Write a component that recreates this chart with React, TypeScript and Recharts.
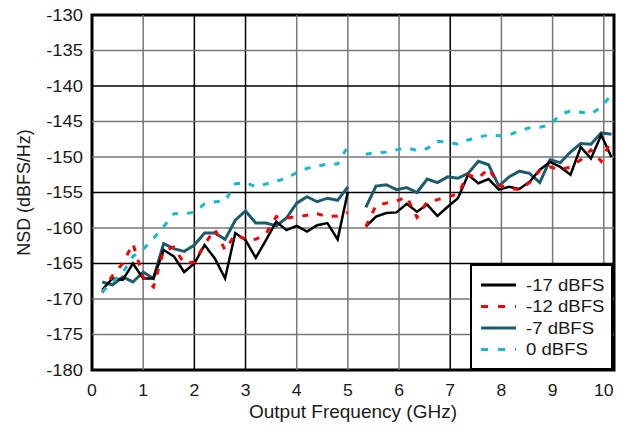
import React from 'react';
import { LineChart, Line, XAxis, YAxis, ReferenceLine, ReferenceArea, Legend, Label } from 'recharts';

const FONT = 'Arial, "Liberation Sans", sans-serif';
const TEXT = '#1a1a1a';

const FREQ_LOW = [0.2, 0.4, 0.6, 0.8, 1.0, 1.2, 1.4, 1.6, 1.8, 2.0, 2.2, 2.4, 2.6, 2.8, 3.0, 3.2, 3.4, 3.6, 3.8, 4.0, 4.2, 4.4, 4.6, 4.8, 5.0];
const FREQ_HIGH = [5.35, 5.55, 5.75, 5.95, 6.15, 6.35, 6.55, 6.75, 6.95, 7.15, 7.35, 7.55, 7.75, 7.95, 8.15, 8.35, 8.55, 8.75, 8.95, 9.15, 9.35, 9.55, 9.75, 9.95, 10.15];

const M17_LOW = [-168.7, -167.1, -167.3, -165.0, -167.1, -167.1, -163.1, -164.0, -166.2, -165.0, -162.4, -164.3, -167.1, -160.7, -161.7, -164.2, -161.7, -159.1, -160.3, -159.7, -160.5, -159.6, -159.3, -161.6, -154.9];
const M17_HIGH = [-159.8, -158.4, -157.9, -157.8, -156.6, -157.7, -156.7, -158.3, -157.0, -155.8, -152.5, -153.7, -153.1, -154.6, -154.2, -154.5, -153.5, -151.8, -150.7, -151.4, -152.5, -148.6, -150.2, -146.9, -150.0];

const M12_LOW = [-169.1, -166.7, -165.0, -162.2, -166.9, -168.3, -163.2, -162.7, -165.0, -164.8, -162.3, -160.2, -163.1, -160.9, -161.6, -161.6, -160.8, -158.4, -158.6, -158.4, -158.2, -158.0, -158.4, -158.3, -157.8];
const M12_HIGH = [-159.8, -156.8, -156.5, -156.2, -155.6, -158.5, -156.3, -156.0, -155.6, -155.2, -152.5, -153.0, -151.6, -154.0, -154.4, -154.6, -153.6, -151.9, -151.4, -151.8, -151.4, -150.4, -149.0, -150.6, -147.6];

const M7_LOW = [-167.6, -168.0, -166.9, -167.6, -166.2, -167.1, -162.2, -162.9, -163.3, -162.4, -160.7, -160.7, -161.6, -158.9, -157.6, -159.3, -159.3, -159.7, -158.6, -156.5, -155.6, -156.3, -155.8, -156.1, -154.2];
const M7_HIGH = [-157.1, -154.1, -153.9, -154.6, -154.3, -155.0, -153.1, -153.6, -152.8, -153.0, -152.3, -150.6, -151.1, -154.1, -152.8, -152.0, -152.3, -153.6, -150.4, -150.8, -149.3, -148.1, -148.2, -146.6, -146.8];

const Z0_LOW = [-169.0, -167.6, -166.3, -164.0, -163.0, -161.5, -159.8, -158.0, -158.0, -157.8, -156.6, -156.3, -156.2, -153.8, -153.6, -154.2, -153.8, -153.4, -153.0, -152.2, -151.6, -151.3, -151.0, -151.0, -148.5];
const Z0_HIGH = [-149.6, -149.4, -149.3, -149.0, -148.7, -149.1, -148.8, -147.8, -147.9, -148.2, -147.6, -147.2, -146.9, -147.0, -146.9, -146.3, -145.9, -145.8, -145.5, -144.0, -143.5, -143.7, -143.9, -143.0, -141.2];

const X_TICKS = [0, 1, 2, 3, 4, 5, 6, 7, 8, 9, 10];
const Y_TICKS = [-180, -175, -170, -165, -160, -155, -150, -145, -140, -135, -130];
const X_GRID_DARK = [2, 3, 7];
const Y_GRID_DARK = [-140, -155, -165];

const SERIES = [
  { key: 'm17', name: '-17 dBFS', color: '#000000', dash: undefined as string | undefined, width: 2.5 },
  { key: 'm12', name: '-12 dBFS', color: '#ff0000', dash: '6 9', width: 3 },
  { key: 'm7', name: '-7 dBFS', color: '#1b5d6d', dash: undefined as string | undefined, width: 3 },
  { key: 'z0', name: '0 dBFS', color: '#13bccc', dash: '6 9', width: 3 },
];
const DRAW_ORDER = ['m7', 'm17', 'm12', 'z0'];

type Row = { f: number; m17: number | null; m12: number | null; m7: number | null; z0: number | null };
const data: Row[] = [
  ...FREQ_LOW.map((f, i) => ({ f, m17: M17_LOW[i], m12: M12_LOW[i], m7: M7_LOW[i], z0: Z0_LOW[i] })),
  { f: (FREQ_LOW[FREQ_LOW.length - 1] + FREQ_HIGH[0]) / 2, m17: null, m12: null, m7: null, z0: null },
  ...FREQ_HIGH.map((f, i) => ({ f, m17: M17_HIGH[i], m12: M12_HIGH[i], m7: M7_HIGH[i], z0: Z0_HIGH[i] })),
];

const YTick = (props: any) => {
  const { x, y, payload } = props;
  return (
    <text transform={`translate(${x},${y}) scale(1.15,1)`} textAnchor="end" dominantBaseline="central"
      fontSize={16} fontFamily={FONT} fill={TEXT}>{payload.value}</text>
  );
};

const XTick = (props: any) => {
  const { x, y, payload } = props;
  return (
    <text transform={`translate(${x},${y}) scale(1.1,1)`} textAnchor="middle" dominantBaseline="central"
      fontSize={16} fontFamily={FONT} fill={TEXT}>{payload.value}</text>
  );
};

const LegendBox = () => {
  const rows = [21, 42.5, 64, 85.5];
  return (
    <svg width={143} height={106} style={{ display: 'block' }}>
      <rect x={1} y={1} width={141} height={104} fill="#ffffff" stroke="#000" strokeWidth={2} />
      {SERIES.map((s, i) => (
        <g key={s.key}>
          <line x1={11} x2={46} y1={rows[i]} y2={rows[i]} stroke={s.color} strokeWidth={3}
            strokeDasharray={s.dash ? '7 10' : undefined} />
          <text transform={`translate(56,${rows[i]}) scale(1.16,1)`} dominantBaseline="central"
            fontSize={16} fontFamily={FONT} fill={TEXT}>{s.name}</text>
        </g>
      ))}
    </svg>
  );
};

export default function App() {
  return (
    <div style={{ position: 'absolute', left: 0, top: 0, width: 626, height: 432, background: '#fff' }}>
      <LineChart width={626} height={432} data={data} margin={{ top: 15, right: 12, bottom: 0, left: 0 }}>
        <XAxis dataKey="f" type="number" domain={[0, 10.2]} ticks={X_TICKS} interval={0}
          axisLine={false} tickLine={false} tickSize={0} tickMargin={21} height={62} tick={<XTick />}>
          <Label content={(p: any) => {
            const vb = p.viewBox;
            return (
              <text x={vb.x + vb.width / 2} y={vb.y + 41} textAnchor="middle" dominantBaseline="central"
                fontSize={19} fontFamily={FONT} fill={TEXT}>Output Frequency (GHz)</text>
            );
          }} />
        </XAxis>
        <YAxis type="number" domain={[-180, -130]} ticks={Y_TICKS} interval={0}
          axisLine={false} tickLine={false} tickSize={0} tickMargin={9} width={92} tick={<YTick />}>
          <Label content={(p: any) => {
            const vb = p.viewBox;
            const cx = 23;
            const cy = vb.y + vb.height / 2;
            return (
              <text transform={`translate(${cx},${cy}) rotate(-90) scale(1.12,1.2)`} textAnchor="middle"
                dominantBaseline="central" fontSize={16} fontFamily={FONT} fill={TEXT}>NSD (dBFS/Hz)</text>
            );
          }} />
        </YAxis>
        {X_TICKS.filter((t) => t > 0).map((t) => (
          <ReferenceLine key={'vx' + t} x={t} stroke={X_GRID_DARK.includes(t) ? '#000' : '#777'} strokeWidth={1.5} />
        ))}
        {Y_TICKS.filter((t) => t > -180 && t < -130).map((t) => (
          <ReferenceLine key={'hy' + t} y={t} stroke={Y_GRID_DARK.includes(t) ? '#000' : '#777'} strokeWidth={1.5} />
        ))}
        {DRAW_ORDER.map((k) => {
          const s = SERIES.find((q) => q.key === k)!;
          return (
            <Line key={k} dataKey={k} name={s.name} type="linear" stroke={s.color} strokeWidth={s.width}
              strokeDasharray={s.dash} dot={false} activeDot={false} connectNulls={false}
              isAnimationActive={false} />
          );
        })}
        <ReferenceArea x1={0} x2={10.2} y1={-180} y2={-130} fill="none" stroke="#000" strokeWidth={3} />
        <Legend content={<LegendBox />} layout="horizontal" verticalAlign="middle" align="center"
          wrapperStyle={{ position: 'absolute', left: 470, top: 264, width: 143, height: 106 }} />
      </LineChart>
    </div>
  );
}
